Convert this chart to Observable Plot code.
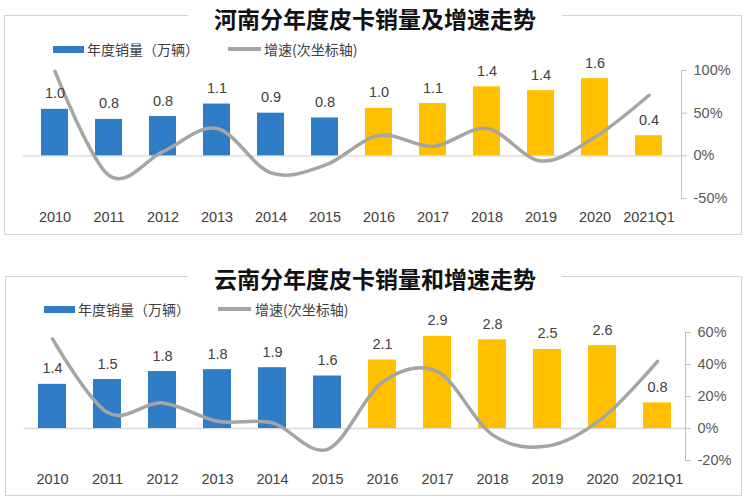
<!DOCTYPE html>
<html><head><meta charset="utf-8">
<script src="https://cdn.jsdelivr.net/npm/d3@7"></script>
<script src="https://cdn.jsdelivr.net/npm/@observablehq/plot@0.6"></script>
<style>
body{margin:0;background:#fff;}
#root{position:relative;width:750px;height:502px;overflow:hidden;font-family:"Liberation Sans",Arial,sans-serif;}
.box{position:absolute;border:1px solid #d4d4d4;box-sizing:border-box;}
.title{position:absolute;left:0;width:750px;text-align:center;font-family:"Noto Sans CJK SC";font-weight:700;font-size:23px;line-height:1;color:#111;}
.title span{background:#fff;padding:0 26px;}
.leg{position:absolute;font-family:"Noto Sans CJK SC";font-size:14px;color:#404040;line-height:1;white-space:nowrap;}
.sw{position:absolute;}
</style></head>
<body><div id="root"></div>
<script>
const years = ["2010","2011","2012","2013","2014","2015","2016","2017","2018","2019","2020","2021Q1"];
const periods = ["hist","hist","hist","hist","hist","hist","recent","recent","recent","recent","recent","recent"];

const henanTitle = "河南分年度皮卡销量及增速走势";
const henanSales = [0.97, 0.76, 0.82, 1.08, 0.89, 0.79, 0.99, 1.09, 1.44, 1.36, 1.61, 0.42];
const henanLabels = ["1.0","0.8","0.8","1.1","0.9","0.8","1.0","1.1","1.4","1.4","1.6","0.4"];
const henanGrowth = [0.99, -0.23, 0.05, 0.32, -0.20, -0.11, 0.24, 0.11, 0.32, -0.06, 0.22, 0.71];
const henanGrowthTicks = [-0.5, 0, 0.5, 1];

const yunnanTitle = "云南分年度皮卡销量和增速走势";
const yunnanSales = [1.38, 1.53, 1.78, 1.84, 1.90, 1.64, 2.14, 2.88, 2.77, 2.47, 2.59, 0.80];
const yunnanLabels = ["1.4","1.5","1.8","1.8","1.9","1.6","2.1","2.9","2.8","2.5","2.6","0.8"];
const yunnanGrowth = [0.56, 0.10, 0.16, 0.045, 0.035, -0.13, 0.29, 0.355, -0.04, -0.11, 0.065, 0.42];
const yunnanGrowthTicks = [-0.2, 0, 0.2, 0.4, 0.6];

const legendSales = "年度销量（万辆）";
const legendGrowth = "增速(次坐标轴)";

const BLUE = "#2E7DC6", YELLOW = "#FFC000", GREY = "#A5A5A5";
const root = document.getElementById("root");

function el(tag, cls, css, html) {
  const e = document.createElement(tag);
  if (cls) e.className = cls;
  Object.assign(e.style, css);
  if (html != null) e.innerHTML = html;
  root.appendChild(e);
  return e;
}

function chart(o) {
  const toY = d3.scaleLinear().domain(o.salesDomain).range(o.growthDomain);
  const data = years.map((year, i) => ({year, sales: o.sales[i], label: o.labels[i], growth: o.growth[i], period: periods[i]}));
  const svg = Plot.plot({
    width: 750, height: o.height,
    marginTop: o.marginTop, marginBottom: 40, marginLeft: o.marginLeft, marginRight: o.marginRight,
    style: {fontFamily: "'Liberation Sans', Arial, sans-serif", fontSize: "14.5px", background: "transparent", color: "#404040"},
    x: {type: "band", domain: years, paddingInner: 0.5, paddingOuter: 0.25, label: null},
    y: {domain: o.growthDomain, label: null},
    color: {domain: ["hist", "recent"], range: [BLUE, YELLOW]},
    marks: [
      Plot.ruleY([0], {stroke: "#d9d9d9", strokeWidth: 1.3}),
      Plot.barY(data, {x: "year", y1: 0, y2: d => toY(d.sales), fill: "period"}),
      Plot.line(data, {x: "year", y: "growth", stroke: GREY, strokeWidth: 3.5, curve: "cardinal", tension: 0}),
      Plot.text(data, {x: "year", y: d => toY(d.sales), text: "label", dy: -11, lineAnchor: "bottom", fill: "#404040", fontSize: 14.5}),
      Plot.axisX({tickSize: 0, tickPadding: 13, fontSize: 14.5, fill: "#404040"}),
      Plot.axisY({anchor: "right", ticks: o.ticks, tickFormat: d => `${Math.round(d * 100)}%`, tickSize: 5, tickPadding: 7, stroke: "#bfbfbf", fill: "#595959", fontSize: 14.5, label: null}),
      Plot.frame({anchor: "right", stroke: "#bfbfbf"})
    ]
  });
  svg.style.position = "absolute";
  svg.style.left = "0px";
  svg.style.top = o.top + "px";
  root.appendChild(svg);
}

// boxes
el("div", "box", {left: "4px", top: "15px", width: "738px", height: "220px"});
el("div", "box", {left: "5px", top: "276px", width: "737px", height: "220px"});

chart({sales: henanSales, labels: henanLabels, growth: henanGrowth, growthDomain: [-0.5, 1], salesDomain: [-0.89, 1.78],
  ticks: henanGrowthTicks, top: 0, height: 238, marginTop: 70, marginLeft: 22.6, marginRight: 69});
chart({sales: yunnanSales, labels: yunnanLabels, growth: yunnanGrowth, growthDomain: [-0.2, 0.6], salesDomain: [-1, 3],
  ticks: yunnanGrowthTicks, top: 250, height: 250, marginTop: 82, marginLeft: 23.5, marginRight: 65});

// titles
el("div", "title", {top: "7px"}, `<span>${henanTitle}</span>`);
el("div", "title", {top: "267px"}, `<span>${yunnanTitle}</span>`);

// legends
function legend(x1, x2, x3, x4, cy) {
  el("div", "sw", {left: x1 + "px", top: (cy - 3.5) + "px", width: "31px", height: "7px", background: BLUE});
  el("div", "leg", {left: x2 + "px", top: (cy - 7) + "px"}, legendSales);
  el("div", "sw", {left: x3 + "px", top: (cy - 2) + "px", width: "33px", height: "4px", background: GREY});
  el("div", "leg", {left: x4 + "px", top: (cy - 7) + "px"}, legendGrowth);
}
legend(53, 87, 228, 264, 49);
legend(44, 78, 218, 255, 309);
</script>
</body></html>
